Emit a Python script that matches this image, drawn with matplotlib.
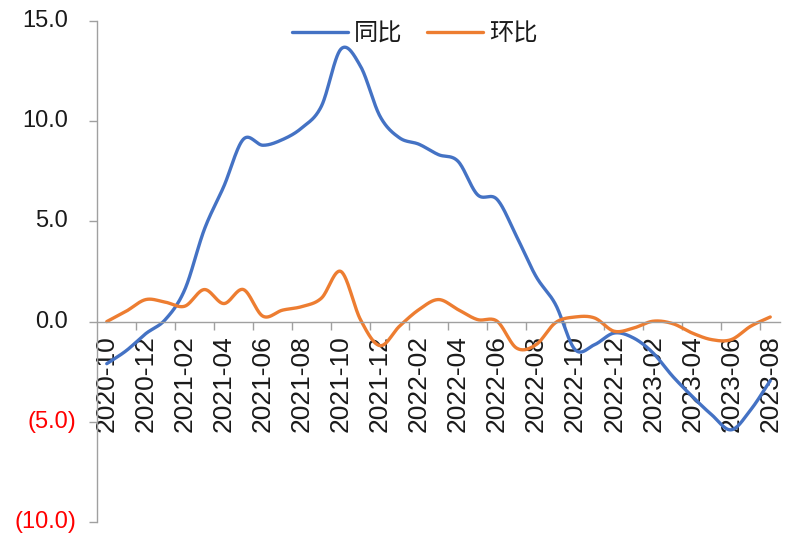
import numpy as np
import pandas as pd
import matplotlib
matplotlib.use('Agg')
import matplotlib.pyplot as plt
from matplotlib.ticker import FixedLocator

# monthly categories 2020-10 .. 2023-08
months = [p.strftime('%Y-%m') for p in pd.period_range('2020-10', '2023-08', freq='M')]

# 同比 (year on year)
yoy = [-2.1, -1.45, -0.6, 0.1, 1.6, 4.6, 6.75, 9.1, 8.8, 9.08, 9.67, 10.75,
       13.6, 12.75, 10.25, 9.17, 8.85, 8.33, 8.0, 6.33, 6.1, 4.25, 2.25, 0.85,
       -1.4, -1.15, -0.57, -0.82, -1.57, -2.73, -3.73, -4.65, -5.4, -4.4, -2.95]

# 环比 (month on month)
mom = [0.0, 0.52, 1.1, 0.97, 0.77, 1.6, 0.9, 1.6, 0.27, 0.57, 0.75, 1.17,
       2.5, 0.1, -1.2, -0.23, 0.6, 1.1, 0.6, 0.1, 0.02, -1.32, -1.15, -0.05,
       0.23, 0.18, -0.48, -0.32, 0.02, -0.1, -0.57, -0.9, -0.9, -0.23, 0.23]

y_ticks = [15, 10, 5, 0, -5, -10]


def smooth(values, steps=30):
    """Excel-like smoothed line (cardinal / Catmull-Rom spline)"""
    y = np.asarray(values, dtype=float)
    n = len(y)
    m = np.empty(n)
    m[1:-1] = (y[2:] - y[:-2]) / 2
    m[0] = y[1] - y[0]
    m[-1] = y[-1] - y[-2]
    xs, ys = [], []
    t = np.linspace(0, 1, steps, endpoint=False)
    for i in range(n - 1):
        h00 = 2 * t**3 - 3 * t**2 + 1
        h10 = t**3 - 2 * t**2 + t
        h01 = -2 * t**3 + 3 * t**2
        h11 = t**3 - t**2
        xs.append(i + t)
        ys.append(h00 * y[i] + h10 * m[i] + h01 * y[i + 1] + h11 * m[i + 1])
    xs.append([n - 1])
    ys.append([y[-1]])
    return np.concatenate(xs), np.concatenate(ys)


fig = plt.figure(figsize=(7.9, 5.38), dpi=100)
ax = fig.add_axes([97 / 790, 1 - 522 / 538, 683 / 790, 501 / 538])

blue = '#4472C4'
orange = '#ED7D31'
axis_col = '#a0a0a0'
txt_col = '#1a1a1a'

x1, y1 = smooth(yoy)
x2, y2 = smooth(mom)
ax.plot(x1, y1, color=blue, lw=2.4, label='同比', solid_capstyle='round')
ax.plot(x2, y2, color=orange, lw=2.4, label='环比', solid_capstyle='round')

ax.set_xlim(-0.5, len(months) - 0.5)
ax.set_ylim(-10, 15)

for s in ['top', 'right']:
    ax.spines[s].set_visible(False)
ax.spines['bottom'].set_position(('data', 0))
ax.spines['bottom'].set_color(axis_col)
ax.spines['left'].set_color(axis_col)
ax.spines['bottom'].set_linewidth(1.0)
ax.spines['left'].set_linewidth(1.0)

# x axis: labels every 2 months, tick marks between categories
ax.set_xticks(range(0, len(months), 2))
ax.set_xticklabels(months[::2], rotation=90, fontsize=19, color=txt_col,
                   family='Liberation Sans')
ax.tick_params(axis='x', which='major', length=0, pad=10)
ax.xaxis.set_minor_locator(FixedLocator(np.arange(1.5, len(months) - 1, 2)))
ax.tick_params(axis='x', which='minor', length=6, width=1.0, color=axis_col,
               direction='out')

# y axis: Excel style accounting labels
ax.set_yticks(y_ticks)
ax.set_yticklabels([])
ax.tick_params(axis='y', length=6, width=1.0, color=axis_col, direction='out')
for v in y_ticks:
    if v < 0:
        ax.annotate('(%.1f)' % abs(v), xy=(0, v), xycoords=('axes fraction', 'data'),
                    xytext=(-21, 0), textcoords='offset pixels', ha='right',
                    va='center', fontsize=17, color='#ff0000', family='Liberation Sans')
    else:
        ax.annotate('%.1f' % v, xy=(0, v), xycoords=('axes fraction', 'data'),
                    xytext=(-29, 0), textcoords='offset pixels', ha='right',
                    va='center', fontsize=17, color=txt_col, family='Liberation Sans')

leg = ax.legend(loc='upper center', bbox_to_anchor=(0.465, 1.045), ncol=2,
                frameon=False, handlelength=2.3, columnspacing=1.0,
                handletextpad=0.25,
                prop={'family': ['Noto Sans CJK SC', 'DejaVu Sans'], 'size': 17.5})
for t in leg.get_texts():
    t.set_color(txt_col)

fig.savefig('out.png', dpi=100)
